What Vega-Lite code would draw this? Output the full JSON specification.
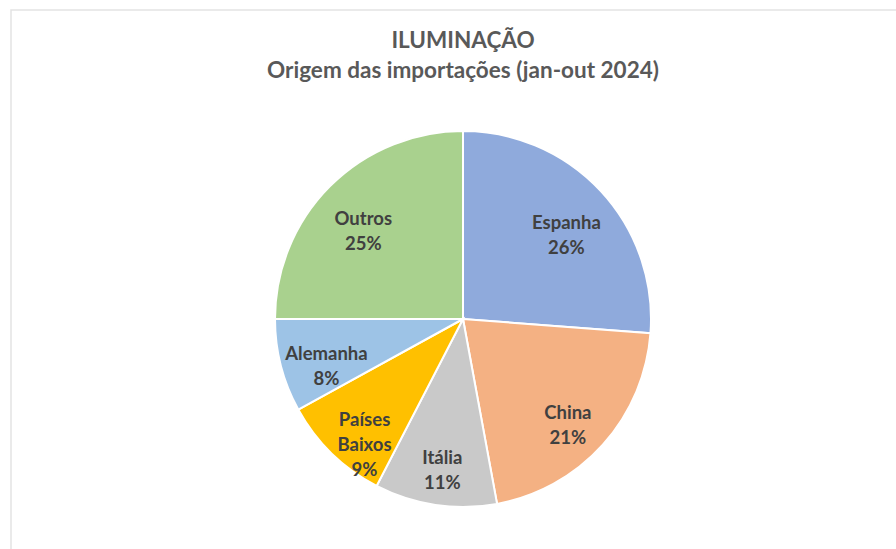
{
  "$schema": "https://vega.github.io/schema/vega-lite/v6.json",
  "width": 904,
  "height": 618,
  "autosize": {"type": "none"},
  "padding": {"left": 11, "top": 10, "right": 0, "bottom": 0},
  "background": "white",
  "config": {
    "view": {"stroke": null},
    "font": "Lato"
  },
  "title": {
    "text": ["ILUMINAÇÃO", "Origem das importações (jan-out 2024)"],
    "anchor": "middle",
    "orient": "top",
    "offset": -73,
    "fontSize": 22.5,
    "lineHeight": 30,
    "fontWeight": "bold",
    "font": "Lato",
    "color": "#595959"
  },
  "layer": [
    {
      "data": {"values": [{"quadro": "moldura"}]},
      "mark": {"type": "rect", "fill": "white", "stroke": "#e3e3e3", "strokeWidth": 1.5},
      "encoding": {}
    },
    {
      "data": {
        "values": [
          {"ordem": 1, "pais": "Espanha", "v": 26.2},
          {"ordem": 2, "pais": "China", "v": 20.9},
          {"ordem": 3, "pais": "Itália", "v": 10.5},
          {"ordem": 4, "pais": "Países Baixos", "v": 9.4},
          {"ordem": 5, "pais": "Alemanha", "v": 8.0},
          {"ordem": 6, "pais": "Outros", "v": 25.0}
        ]
      },
      "transform": [
        {"calculate": "split(datum.pais + ' ' + format(datum.v, '.0f') + '%', ' ')", "as": "rotulo"}
      ],
      "encoding": {
        "theta": {"field": "v", "type": "quantitative", "stack": true},
        "order": {"field": "ordem", "type": "quantitative"}
      },
      "layer": [
        {
          "mark": {"type": "arc", "outerRadius": 188, "stroke": "white", "strokeWidth": 2},
          "encoding": {
            "color": {
              "field": "pais",
              "type": "nominal",
              "legend": null,
              "scale": {
                "domain": ["Espanha", "China", "Itália", "Países Baixos", "Alemanha", "Outros"],
                "range": ["#8faadc", "#f4b183", "#c9c9c9", "#ffc000", "#9dc3e6", "#a9d18e"]
              }
            }
          }
        },
        {
          "mark": {
            "type": "text",
            "radius": 141,
            "fontSize": 18.5,
            "fontWeight": "bold",
            "lineHeight": 25,
            "color": "#404040",
            "align": "center",
            "baseline": "middle"
          },
          "encoding": {
            "text": {"field": "rotulo"}
          }
        }
      ]
    }
  ]
}
